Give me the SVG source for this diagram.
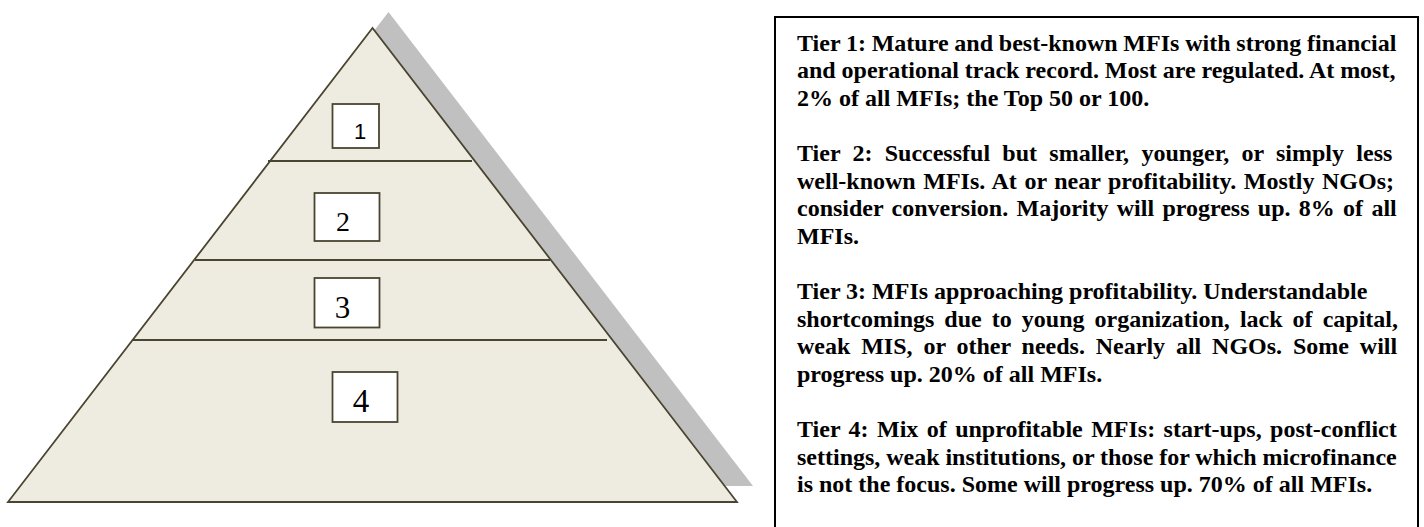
<svg xmlns="http://www.w3.org/2000/svg" width="1424" height="527" viewBox="0 0 1424 527">
  <style>
    .tier { fill: #EEECE1; stroke: #4A4530; stroke-width: 1.8; stroke-linejoin: miter; }
    .divider { stroke: #4A4530; stroke-width: 2; fill: none; }
    .numbox { fill: #FFFFFF; stroke: #4A4530; stroke-width: 1.8; }
    .num { font-family: "Liberation Serif", "Times New Roman", serif; fill: #000; text-anchor: middle; }
    .num1 { font-family: "Liberation Sans", Arial, sans-serif; fill: #000; text-anchor: middle; }
    .desc { font-family: "Liberation Serif", "Times New Roman", serif; font-weight: bold; font-size: 24px; fill: #000; }
  </style>
  <rect x="0" y="0" width="1424" height="527" fill="#FFFFFF"/>

  <g id="pyramid">
    <polygon id="pyramid-shadow" points="388.5,12 24,486 753,486" fill="#C0C0C0"/>
    <polygon id="pyramid-body" class="tier" points="372.5,28 8,502 737,502"/>
  </g>

  <g id="connectors">
    <line class="divider" x1="268" y1="161" x2="472" y2="161"/>
    <line class="divider" x1="195" y1="260" x2="550" y2="260"/>
    <line class="divider" x1="132" y1="340" x2="607" y2="340"/>
  </g>

  <g id="tier1">
    <rect class="numbox" x="332.5" y="104" width="46.5" height="44"/>
    <text class="num1" x="360" y="138.5" font-size="22">1</text>
  </g>
  <g id="tier2">
    <rect class="numbox" x="314.5" y="193" width="65" height="48"/>
    <text class="num" x="343" y="231" font-size="28">2</text>
  </g>
  <g id="tier3">
    <rect class="numbox" x="314.5" y="278" width="65" height="49.5"/>
    <text class="num" x="342.5" y="318" font-size="31">3</text>
  </g>
  <g id="tier4">
    <rect class="numbox" x="332.5" y="372" width="65" height="50"/>
    <text class="num" x="361" y="412" font-size="33">4</text>
  </g>

  <g id="description-panel">
    <path d="M775,560 L775,17 L1418,17 L1418,560" fill="none" stroke="#000" stroke-width="2"/>
    <g class="desc">
      <text x="797" y="50.5" word-spacing="-0.2">Tier 1: Mature and best-known MFIs with strong financial</text>
      <text x="797" y="78.1" word-spacing="-0.1">and operational track record. Most are regulated. At most,</text>
      <text x="797" y="105.7">2% of all MFIs; the Top 50 or 100.</text>

      <text x="797" y="160.9" word-spacing="6.3">Tier 2: Successful but smaller, younger, or simply less</text>
      <text x="797" y="188.5" word-spacing="1.57">well-known MFIs. At or near profitability. Mostly NGOs;</text>
      <text x="797" y="216.1" word-spacing="2.3">consider conversion. Majority will progress up. 8% of all</text>
      <text x="797" y="243.7">MFIs.</text>

      <text x="797" y="298.9">Tier 3: MFIs approaching profitability. Understandable</text>
      <text x="797" y="326.5" word-spacing="4.04">shortcomings due to young organization, lack of capital,</text>
      <text x="797" y="354.1" word-spacing="4.86">weak MIS, or other needs. Nearly all NGOs. Some will</text>
      <text x="797" y="381.7">progress up. 20% of all MFIs.</text>

      <text x="797" y="436.9" word-spacing="2.44">Tier 4: Mix of unprofitable MFIs: start-ups, post-conflict</text>
      <text x="797" y="464.5" word-spacing="-0.14">settings, weak institutions, or those for which microfinance</text>
      <text x="797" y="492.1">is not the focus. Some will progress up. 70% of all MFIs.</text>
    </g>
  </g>
</svg>
